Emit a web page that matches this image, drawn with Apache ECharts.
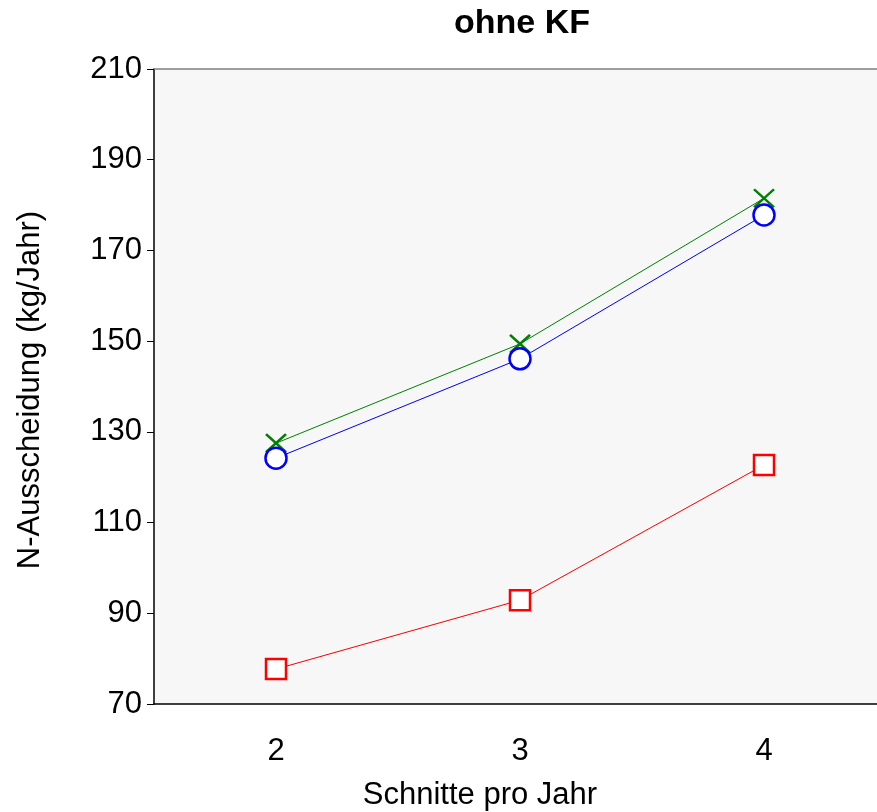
<!DOCTYPE html>
<html><head><meta charset="utf-8">
<script src="https://cdn.jsdelivr.net/npm/echarts@6/dist/echarts.min.js"></script>
<style>html,body{margin:0;padding:0;background:#fff;overflow:hidden}#c{width:900px;height:812px}</style>
</head><body><div id="c"></div>
<script>
const categories = ['2', '3', '4'];
const yTicks = [70, 90, 110, 130, 150, 170, 190, 210];
const redSquares = [77.7, 92.9, 122.7];
const greenCross = [127.5, 149.4, 181.5];
const blueCircles = [124.2, 146.1, 177.8];
const titleText = 'ohne KF';
const xName = 'Schnitte pro Jahr';
const yName = 'N-Ausscheidung (kg/Jahr)';

const FONT = 'Liberation Sans, Arial, sans-serif';
const FS = 31;
const chart = echarts.init(document.getElementById('c'), null, {renderer: 'canvas'});
chart.setOption({
  backgroundColor: '#ffffff',
  animation: false,
  grid: {left: 154, top: 69, right: 14, bottom: 108, show: true, backgroundColor: '#f7f7f7', borderWidth: 0},
  xAxis: [{
    type: 'category', data: categories, boundaryGap: true, position: 'bottom',
    axisLine: {lineStyle: {color: '#000', width: 1.5}},
    axisTick: {alignWithLabel: true, length: 7, lineStyle: {color: '#000'}},
    axisLabel: {color: '#000', fontSize: FS, fontFamily: FONT, margin: 32},
    splitLine: {show: false}
  }, {
    type: 'category', data: categories, position: 'top',
    axisLine: {lineStyle: {color: '#808080', width: 1.5}},
    axisTick: {show: false}, axisLabel: {show: false}
  }],
  yAxis: {
    type: 'value', min: yTicks[0], max: yTicks[yTicks.length - 1], interval: 20,
    axisLine: {show: true, lineStyle: {color: '#000', width: 1.5}},
    axisTick: {show: true, length: 7, lineStyle: {color: '#000'}},
    axisLabel: {color: '#000', fontSize: FS, fontFamily: FONT, margin: 12},
    splitLine: {show: false}
  },
  graphic: [
    {type: 'text', x: 522, y: 24, style: {text: titleText, font: 'bold 34px ' + FONT, fill: '#000', align: 'center', verticalAlign: 'middle'}},
    {type: 'text', x: 480, y: 795, style: {text: xName, font: FS + 'px ' + FONT, fill: '#000', align: 'center', verticalAlign: 'middle'}},
    {type: 'text', x: 30, y: 390, rotation: Math.PI / 2, style: {text: yName, font: FS + 'px ' + FONT, fill: '#000', align: 'center', verticalAlign: 'middle'}}
  ],
  series: [
    {type: 'line', data: redSquares, symbol: 'rect', symbolSize: 20,
     lineStyle: {color: '#ff0000', width: 1}, itemStyle: {color: '#ffffff', borderColor: '#ff0000', borderWidth: 2.5}},
    {type: 'line', data: greenCross, symbol: 'path://M0,0 L10,10 M10,0 L0,10', symbolSize: [20, 18],
     lineStyle: {color: '#008000', width: 1}, itemStyle: {color: '#008000', borderColor: '#008000', borderWidth: 2.5}},
    {type: 'line', data: blueCircles, symbol: 'circle', symbolSize: 21,
     lineStyle: {color: '#0000ff', width: 1}, itemStyle: {color: '#ffffff', borderColor: '#0000ff', borderWidth: 2.5}}
  ]
});
</script></body></html>
